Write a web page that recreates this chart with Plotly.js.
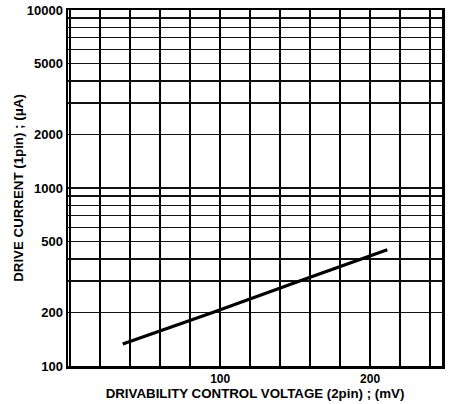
<!DOCTYPE html>
<html>
<head>
<meta charset="utf-8">
<script src="https://cdn.plot.ly/plotly-3.0.1.min.js"></script>
<style>html,body{margin:0;padding:0;background:#fff;}#chart{width:453px;height:404px;}</style>
</head>
<body>
<div id="chart"></div>
<script>
// Data
const voltage_mV = [35, 95, 153, 194.5, 211.5];
const current_uA = [133, 200, 300, 400, 450];

// Axis ticks / grid
const xTickVals = [0, 20, 40, 60, 80, 100, 120, 140, 160, 180, 200, 220, 240];
const xTickText = ['', '', '', '', '', '100', '', '', '', '', '200', '', ''];
const yTickVals = [100, 200, 300, 400, 500, 600, 700, 800, 900,
                   1000, 2000, 3000, 4000, 5000, 6000, 7000, 8000, 9000, 10000];
const yTickText = ['100', '200', '', '', '500', '', '', '', '',
                   '1000', '2000', '', '', '5000', '', '', '', '', '10000'];

const xTitle = 'DRIVABILITY CONTROL VOLTAGE (2pin) ; (mV)';
const yTitle = 'DRIVE CURRENT (1pin) ; (μA)';

const fontFam = 'Liberation Sans, Arial, sans-serif';

const trace = {
  x: voltage_mV,
  y: current_uA,
  type: 'scatter',
  mode: 'lines',
  line: {color: '#000', width: 3.2},
  hoverinfo: 'skip'
};

const layout = {
  width: 453,
  height: 404,
  margin: {l: 68, r: 11, t: 10, b: 38},
  paper_bgcolor: '#fff',
  plot_bgcolor: '#fff',
  showlegend: false,
  font: {family: fontFam, color: '#000', size: 12, weight: 'bold'},
  xaxis: {
    range: [-1.5, 248],
    tickmode: 'array',
    tickvals: xTickVals,
    ticktext: xTickText,
    ticks: '',
    showgrid: true,
    gridcolor: '#000',
    gridwidth: 1.8,
    zeroline: false,
    showline: true,
    mirror: true,
    linecolor: '#000',
    linewidth: 2.5,
    tickfont: {family: fontFam, size: 12, color: '#000', weight: 'bold'},
    title: {text: xTitle, font: {family: fontFam, size: 13.3, color: '#000', weight: 'bold'}, standoff: 0},
    automargin: false
  },
  yaxis: {
    type: 'log',
    range: [2, 4],
    tickmode: 'array',
    tickvals: yTickVals,
    ticktext: yTickText,
    ticks: '',
    showgrid: true,
    gridcolor: '#111',
    gridwidth: 1.5,
    zeroline: false,
    showline: true,
    mirror: true,
    linecolor: '#000',
    linewidth: 2.5,
    tickfont: {family: fontFam, size: 13, color: '#000', weight: 'bold'},
    title: {text: yTitle, font: {family: fontFam, size: 13.3, color: '#000', weight: 'bold'}, standoff: 0},
    automargin: false
  }
};

Plotly.newPlot('chart', [trace], layout, {displayModeBar: false, staticPlot: true});
</script>
</body>
</html>
